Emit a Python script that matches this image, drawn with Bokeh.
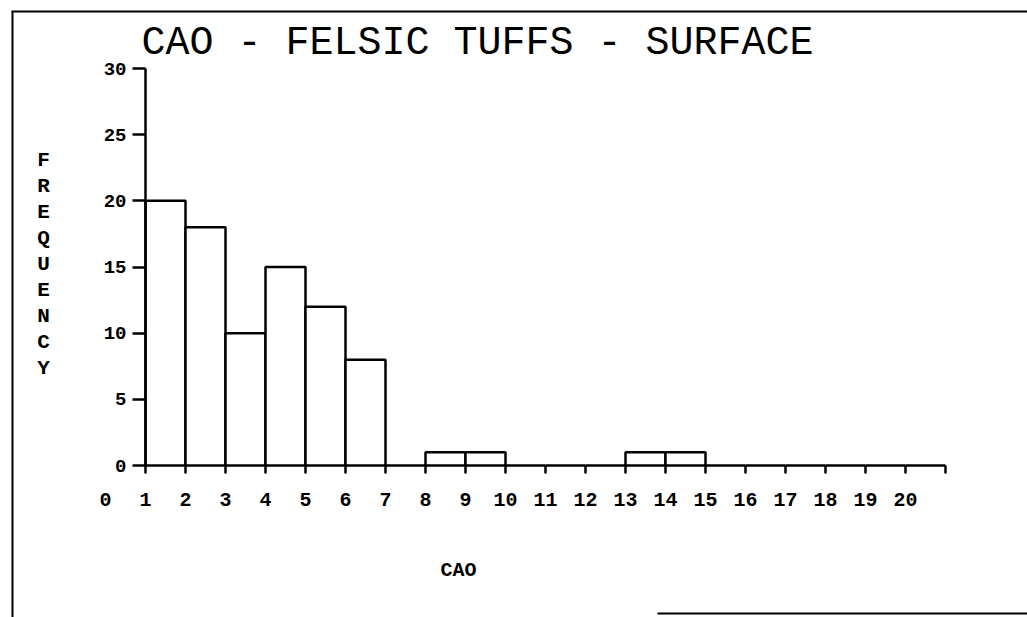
from bokeh.plotting import figure
from bokeh.models import FixedTicker, Range1d
from bokeh.core.properties import value
from bokeh.embed import file_html
from bokeh.resources import INLINE

# ---- data ----
bin_left = list(range(1, 21))
bin_right = list(range(2, 22))
counts = [20, 18, 10, 15, 12, 8, 0, 1, 1, 0, 0, 0, 1, 1, 0, 0, 0, 0, 0, 0]
x_ticks = list(range(0, 22))
x_tick_labels = [str(i) for i in range(0, 21)] + [""]
y_ticks = [0, 5, 10, 15, 20, 25, 30]
title_text = "CAO - FELSIC TUFFS - SURFACE"
x_title = "CAO"
y_title = "FREQUENCY"

MONO = "Liberation Mono"
W, H = 1027, 617


# pixel -> data helpers (layout only)
def dx(px):
    return 1 + (px - 145) / 40.0


def dy(py):
    return (465 - py) / 13.2333


p = figure(width=W, height=H, output_backend="svg", toolbar_location=None,
           x_range=Range1d(dx(0), dx(W)), y_range=Range1d(dy(H), dy(0)),
           min_border=0)
p.outline_line_color = None
p.xgrid.visible = False
p.ygrid.visible = False
p.background_fill_color = "white"
p.border_fill_color = "white"

# page frame lines (scanned sheet border)
p.segment(x0=[dx(12), dx(11), dx(657)], y0=[dy(617), dy(11), dy(613)],
          x1=[dx(12), dx(W), dx(W)], y1=[dy(11), dy(11), dy(613)],
          line_color="black", line_width=2)

# histogram bars
p.quad(left=bin_left, right=bin_right, top=counts, bottom=0,
       fill_color="white", line_color="black", line_width=2.5)

# x axis
xa = p.xaxis[0]
xa.fixed_location = 0
xa.ticker = FixedTicker(ticks=x_ticks, minor_ticks=x_ticks[1:])
xa.major_label_overrides = {t: l for t, l in zip(x_ticks, x_tick_labels)}
xa.axis_line_color = None
xa.major_tick_line_color = None
xa.major_tick_out = 8
xa.major_tick_in = 0
xa.minor_tick_line_color = "black"
xa.minor_tick_line_width = 2.5
xa.minor_tick_out = 8
xa.minor_tick_in = 0
xa.major_label_standoff = 19
xa.major_label_text_font = MONO
xa.major_label_text_font_style = "bold"
xa.major_label_text_font_size = "20px"
xa.major_label_text_color = "black"

# y axis
ya = p.yaxis[0]
ya.fixed_location = 1
ya.bounds = (0, 30)
ya.ticker = FixedTicker(ticks=y_ticks)
ya.axis_line_width = 2.5
ya.axis_line_color = "black"
ya.major_tick_line_width = 2.5
ya.major_tick_line_color = "black"
ya.minor_tick_line_color = None
ya.major_tick_in = 0
ya.major_tick_out = 13
ya.major_label_standoff = 6
ya.major_label_text_font = MONO
ya.major_label_text_font_style = "bold"
ya.major_label_text_font_size = "19px"
ya.major_label_text_color = "black"

# titles
p.text(x=[dx(141)], y=[dy(43)], text=[title_text], text_font=value(MONO),
       text_font_size="40px", text_baseline="alphabetic", text_align="left",
       text_color="black")
p.text(x=[dx(458)], y=[dy(570)], text=[x_title], text_font=value(MONO),
       text_font_size="20px", text_font_style="bold", text_baseline="middle",
       text_align="center", text_color="black")
p.text(x=[dx(43)], y=[dy(264)], text=["\n".join(y_title)], text_font=value(MONO),
       text_font_size="21px", text_font_style="bold", text_line_height=1.13,
       text_baseline="middle", text_align="center", text_color="black")

open("out.html", "w").write(file_html(p, INLINE))
